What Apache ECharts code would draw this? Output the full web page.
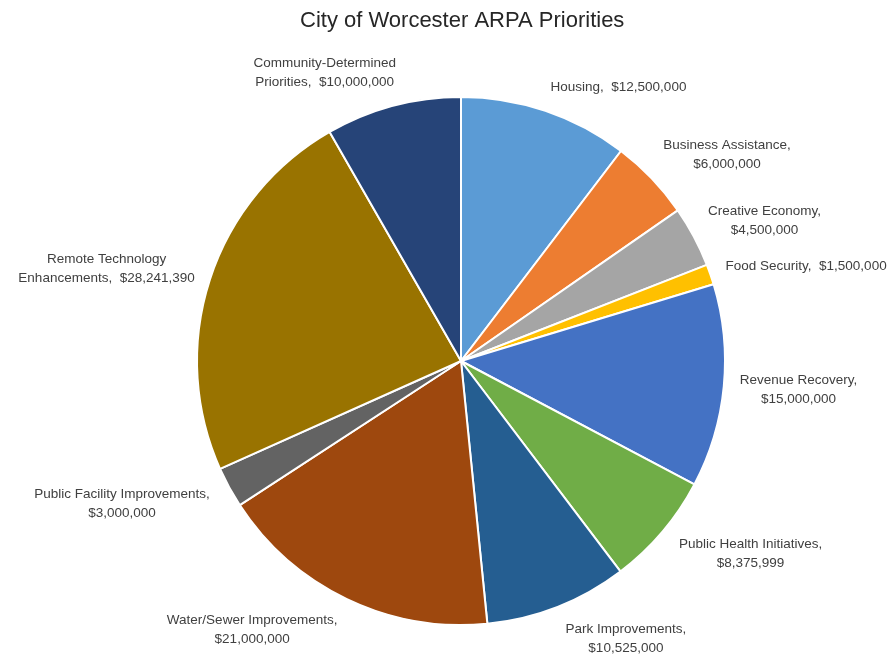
<!DOCTYPE html>
<html>
<head>
<meta charset="utf-8">
<script src="https://cdn.jsdelivr.net/npm/echarts@6/dist/echarts.min.js"></script>
<style>
html, body { margin: 0; padding: 0; background: #fff; }
#main { width: 893px; height: 658px; }
</style>
</head>
<body>
<div id="main"></div>
<script>
// slices, clockwise from 12 o'clock
var names = [
    'Housing',
    'Business Assistance',
    'Creative Economy',
    'Food Security',
    'Revenue Recovery',
    'Public Health Initiatives',
    'Park Improvements',
    'Water/Sewer Improvements',
    'Public Facility Improvements',
    'Remote Technology\nEnhancements',
    'Community-Determined\nPriorities'
];
var amounts = [12500000, 6000000, 4500000, 1500000, 15000000, 8375999,
    10525000, 21000000, 3000000, 28241390, 10000000];
// value goes on its own line for these
var wrapValue = [false, true, true, false, true, true, true, true, true, false, false];
var colors = ['#5b9bd5', '#ed7d31', '#a5a5a5', '#ffc000', '#4472c4', '#70ad47',
    '#255e91', '#9e480e', '#636363', '#997300', '#264478'];

var PIE_CX = 461;
var PIE_CY = 361;
var PIE_R = 264;

var fmtMoney = function (v) {
    return '$' + String(v).replace(/\B(?=(\d{3})+(?!\d))/g, ',');
};

// mid angle of each slice, measured clockwise from 12 o'clock
var total = amounts.reduce(function (a, b) { return a + b; }, 0);
var midAngles = [];
var acc = 0;
amounts.forEach(function (v) {
    midAngles.push((acc + v / 2) / total * Math.PI * 2);
    acc += v;
});

var chart = echarts.init(document.getElementById('main'));

var seriesData = names.map(function (n, i) {
    return {
        name: n,
        value: amounts[i],
        itemStyle: { color: colors[i] }
    };
});

chart.setOption({
    animation: false,
    title: {
        text: 'City of Worcester ARPA Priorities',
        left: 295,
        top: 5,
        textStyle: {
            fontFamily: 'Liberation Sans',
            fontSize: 22,
            fontWeight: 'normal',
            color: '#262626'
        }
    },
    series: [{
        type: 'pie',
        center: [PIE_CX, PIE_CY],
        radius: PIE_R,
        startAngle: 90,
        clockwise: true,
        itemStyle: { borderColor: '#fff', borderWidth: 2 },
        label: {
            show: true,
            position: 'outside',
            overflow: 'none',
            fontFamily: 'Liberation Sans',
            fontSize: 13.5,
            lineHeight: 19,
            color: '#404040',
            formatter: function (p) {
                var sep = wrapValue[p.dataIndex] ? ',\n' : ',  ';
                return p.name + sep + fmtMoney(p.value);
            }
        },
        labelLine: { show: false },
        // put each label just past the outer edge, like Excel's "outside end"
        labelLayout: function (p) {
            var a = midAngles[p.dataIndex];
            var ux = Math.sin(a);
            var uy = -Math.cos(a);
            // lower labels sit a little further out sideways in the original
            var padX = uy > 0.2 ? 22 : 16;
            var padY = 15;
            var w = p.labelRect.width;
            var h = p.labelRect.height;
            var kx = Math.max(-1, Math.min(1, ux * 3.5));
            return {
                x: PIE_CX + (PIE_R + padX) * ux + kx * w / 2,
                y: PIE_CY + (PIE_R + padY) * uy + uy * h / 2,
                align: 'center',
                verticalAlign: 'middle'
            };
        },
        data: seriesData
    }]
});
</script>
</body>
</html>
